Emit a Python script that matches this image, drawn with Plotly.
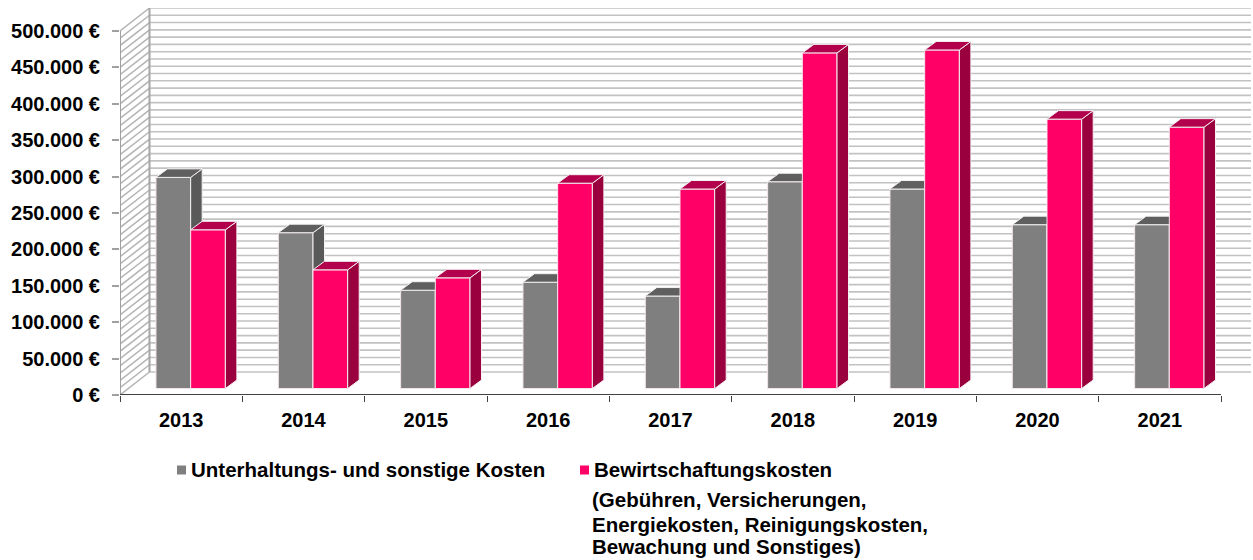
import numpy as np
import plotly.graph_objects as go

years = ["2013", "2014", "2015", "2016", "2017", "2018", "2019", "2020", "2021"]
upkeep = [290000, 214000, 135000, 146000, 127000, 284000, 274000, 225000, 225000]
operating = [218000, 163000, 152000, 282000, 274000, 461000, 465000, 370000, 359000]
upkeep_name = "Unterhaltungs- und sonstige Kosten"
operating_name = "Bewirtschaftungskosten"
operating_note = ["(Gebühren, Versicherungen,", "Energiekosten, Reinigungskosten,", "Bewachung und Sonstiges)"]
y_ticks = [0, 50000, 100000, 150000, 200000, 250000, 300000, 350000, 400000, 450000, 500000]
y_labels = ["0 €", "50.000 €", "100.000 €", "150.000 €", "200.000 €", "250.000 €",
            "300.000 €", "350.000 €", "400.000 €", "450.000 €", "500.000 €"]

W, H = 1253, 560
L, T, R, B = 120, 8, 2, 165
PX = (1221 - 120) / 9
PY = 364 / 500000
FONT = "Liberation Sans"
ux = lambda p: p / PX
uy = lambda p: p / PY

x_range = [-0.5, -0.5 + ux(W - L - R)]
y_range = [0, uy(H - T - B)]
n = np.arange(len(years))
wall_dx, wall_dy = ux(29.5), uy(23)
bar_w = ux(34.7)
shift = ux(9.5)
floor = uy(6.5)
side_dx, side_dy = ux(11.5), uy(8.5)

fig = go.Figure()

# wall grid
gx, gy, sx, sy = [], [], [], []
for v in range(0, 500001, 10000):
    gx += [-0.5 + wall_dx, x_range[1], None]
    gy += [v + wall_dy, v + wall_dy, None]
    sx += [-0.5, -0.5 + wall_dx, None]
    sy += [v, v + wall_dy, None]
fig.add_trace(go.Scatter(x=gx, y=gy, mode="lines", line=dict(color="#C2C2C2", width=1.6), hoverinfo="skip", showlegend=False))
fig.add_trace(go.Scatter(x=sx, y=sy, mode="lines", line=dict(color="#B4B4B4", width=1.5), hoverinfo="skip", showlegend=False))
fig.add_trace(go.Scatter(x=[-0.5 + wall_dx, -0.5 + wall_dx], y=[wall_dy, 500000 + wall_dy], mode="lines",
                         line=dict(color="#A6A6A6", width=2), hoverinfo="skip", showlegend=False))
fig.add_trace(go.Scatter(x=[-0.5, -0.5], y=[0, 500000], mode="lines", cliponaxis=False,
                         line=dict(color="#A0A0A0", width=2), hoverinfo="skip", showlegend=False))


def add_series(values, offset, front, side, top, xa, ya, name):
    xc = n + shift + offset
    fig.add_trace(go.Bar(x=xc, y=values, base=floor, width=bar_w, name=name, xaxis=xa, yaxis=ya,
                         marker=dict(color=front, line=dict(color="#F2E6EA", width=1)), showlegend=False))
    px, py, tx, ty = [], [], [], []
    for c, v in zip(xc, values):
        x0, x1 = c - bar_w / 2, c + bar_w / 2
        t = v + floor
        px += [x1, x1 + side_dx, x1 + side_dx, x1, x1, None]
        py += [floor, floor + side_dy, t + side_dy, t, floor, None]
        tx += [x0, x0 + side_dx, x1 + side_dx, x1, x0, None]
        ty += [t, t + side_dy, t + side_dy, t, t, None]
    for qx, qy, col in ((px, py, side), (tx, ty, top)):
        fig.add_trace(go.Scatter(x=qx, y=qy, mode="lines", fill="toself", fillcolor=col, xaxis=xa, yaxis=ya,
                                 line=dict(color="#F4F0F1", width=1), hoverinfo="skip", showlegend=False))


add_series(upkeep, -bar_w / 2, "#7F7F7F", "#595959", "#5F5F5F", "x2", "y2", upkeep_name)
add_series(operating, bar_w / 2, "#FF0066", "#99003D", "#B3004D", "x3", "y3", operating_name)

# x axis line on top
fig.add_trace(go.Scatter(x=[-0.5, 8.5], y=[0, 0], mode="lines", cliponaxis=False, xaxis="x3", yaxis="y3",
                         line=dict(color="#404040", width=2), hoverinfo="skip", showlegend=False))

fig.update_layout(
    width=W, height=H, margin=dict(l=L, t=T, r=R, b=B, pad=0, autoexpand=False),
    paper_bgcolor="white", plot_bgcolor="white", barmode="overlay",
    font=dict(family=FONT, size=20, color="black"),
    xaxis=dict(range=x_range, tickmode="array", tickvals=list(n), ticktext=years, ticks="", showgrid=False,
               zeroline=False, showline=False, ticklabelstandoff=11,
               tickfont=dict(family=FONT, size=20, color="black", weight="bold"),
               minor=dict(tickmode="array", tickvals=list(n - 0.5) + [8.5], ticks="outside", ticklen=6,
                          tickwidth=1, tickcolor="#404040", showgrid=False)),
    yaxis=dict(range=y_range, tickmode="array", tickvals=y_ticks, ticktext=y_labels, ticks="outside", ticklen=7,
               tickwidth=2, tickcolor="#A0A0A0", showgrid=False, zeroline=False, showline=False,
               ticklabelstandoff=8, tickfont=dict(family=FONT, size=20, color="black", weight="bold")),
    xaxis2=dict(range=x_range, overlaying="x", visible=False),
    yaxis2=dict(range=y_range, overlaying="y", visible=False),
    xaxis3=dict(range=x_range, overlaying="x", visible=False),
    yaxis3=dict(range=y_range, overlaying="y", visible=False),
)


def label(text, px_x, px_y):
    fig.add_annotation(text=text, xref="paper", yref="paper", x=(px_x - L) / (W - L - R),
                       y=1 - (px_y - T) / (H - T - B), xanchor="left", yanchor="middle", showarrow=False,
                       align="left", borderpad=0,
                       font=dict(family=FONT, size=20.5, color="black", weight="bold"))


def swatch(px_x, px_y, col):
    fig.add_shape(type="rect", xref="paper", yref="paper", layer="above",
                  x0=(px_x - L) / (W - L - R), x1=(px_x + 9 - L) / (W - L - R),
                  y0=1 - (px_y + 4.5 - T) / (H - T - B), y1=1 - (px_y - 4.5 - T) / (H - T - B),
                  fillcolor=col, line=dict(width=0))


swatch(177, 470, "#7F7F7F")
swatch(580, 470, "#FF0066")
label(upkeep_name, 190, 470)
label(operating_name, 593, 470)
for txt, yy in zip(operating_note, [499, 524, 546]):
    label(txt, 591, yy)

fig.write_html("out.html", post_script="document.body.style.margin='0';",
               config=dict(displayModeBar=False))
